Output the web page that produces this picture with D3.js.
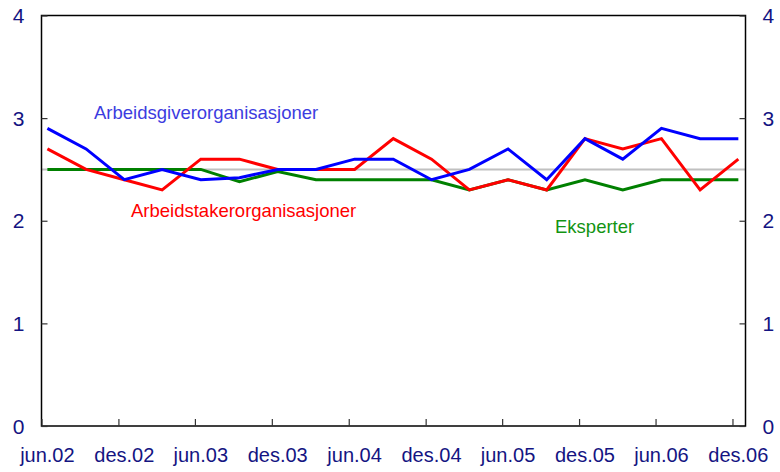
<!DOCTYPE html>
<html>
<head>
<meta charset="utf-8">
<script src="https://cdn.jsdelivr.net/npm/d3@7"></script>
<style>
  body { margin: 0; background: #fff; }
  text { font-family: "Liberation Sans", Arial, sans-serif; }
</style>
</head>
<body>
<svg id="chart" width="780" height="472"></svg>
<script>
// quarterly observations, jun.02 - des.06
const quarters = ["2002-06","2002-09","2002-12","2003-03","2003-06","2003-09","2003-12",
  "2004-03","2004-06","2004-09","2004-12","2005-03","2005-06","2005-09","2005-12",
  "2006-03","2006-06","2006-09","2006-12"];

const arbeidsgiver = [2.9, 2.7, 2.4, 2.5, 2.4, 2.42, 2.5, 2.5, 2.6, 2.6, 2.4, 2.5, 2.7, 2.4, 2.8, 2.6, 2.9, 2.8, 2.8];
const arbeidstaker = [2.7, 2.5, 2.4, 2.3, 2.6, 2.6, 2.5, 2.5, 2.5, 2.8, 2.6, 2.3, 2.4, 2.3, 2.8, 2.7, 2.8, 2.3, 2.6];
const eksperter   = [2.5, 2.5, 2.5, 2.5, 2.5, 2.38, 2.48, 2.4, 2.4, 2.4, 2.4, 2.3, 2.4, 2.3, 2.4, 2.3, 2.4, 2.4, 2.4];

const xTickMonths = ["2002-06","2002-12","2003-06","2003-12","2004-06","2004-12","2005-06","2005-12","2006-06","2006-12"];
const xTickLabels = ["jun.02","des.02","jun.03","des.03","jun.04","des.04","jun.05","des.05","jun.06","des.06"];
const yTicks = [0, 1, 2, 3, 4];
const target = 2.5;

const parseMonth = d3.timeParse("%Y-%m");
const mid = s => d3.timeDay.offset(parseMonth(s), 14);

const svg = d3.select("#chart");
const x0 = 41.5, x1 = 745.5, y0 = 15.5, y1 = 426;

const x = d3.scaleTime()
  .domain([parseMonth("2002-06"), parseMonth("2007-01")])
  .range([x0, x1]);
const y = d3.scaleLinear().domain([0, 4]).range([y1, y0]);

const navy = "#141482";

// target line
svg.append("line")
  .attr("x1", x0).attr("x2", x1)
  .attr("y1", y(target)).attr("y2", y(target))
  .attr("stroke", "#c0c0c0").attr("stroke-width", 2);

// series
const line = d3.line()
  .x((d, i) => x(mid(quarters[i])))
  .y(d => y(d));

const series = [
  {values: eksperter, color: "#008000"},
  {values: arbeidstaker, color: "#ff0000"},
  {values: arbeidsgiver, color: "#0000ff"}
];
series.forEach(s => {
  svg.append("path")
    .attr("d", line(s.values))
    .attr("fill", "none")
    .attr("stroke", s.color)
    .attr("stroke-width", 3)
    .attr("stroke-linejoin", "miter");
});

// frame
svg.append("rect")
  .attr("x", x0).attr("y", y0)
  .attr("width", x1 - x0).attr("height", y1 - y0)
  .attr("fill", "none").attr("stroke", "#000").attr("stroke-width", 1.5);

// y axes (ticks inward)
const yLeft = svg.append("g").attr("transform", `translate(${x0},0)`)
  .call(d3.axisRight(y).tickValues(yTicks).tickSize(6).tickFormat(""));
const yRight = svg.append("g").attr("transform", `translate(${x1},0)`)
  .call(d3.axisLeft(y).tickValues(yTicks).tickSize(6).tickFormat(""));
[yLeft, yRight].forEach(g => {
  g.select(".domain").remove();
  g.selectAll("line").attr("stroke", "#333").attr("stroke-width", 1.2);
});

svg.selectAll("text.yl").data(yTicks).join("text")
  .attr("class", "yl")
  .attr("x", x0 - 17).attr("y", d => y(d)).attr("dy", "0.36em")
  .attr("text-anchor", "end")
  .attr("font-size", 21).attr("fill", navy)
  .text(d => d);
svg.selectAll("text.yr").data(yTicks).join("text")
  .attr("class", "yr")
  .attr("x", x1 + 17).attr("y", d => y(d)).attr("dy", "0.36em")
  .attr("text-anchor", "start")
  .attr("font-size", 21).attr("fill", navy)
  .text(d => d);

// x axis ticks (inward) and labels
const xAxis = svg.append("g").attr("transform", `translate(0,${y1})`)
  .call(d3.axisTop(x).tickValues(xTickMonths.map(parseMonth)).tickSize(7).tickFormat(""));
xAxis.select(".domain").remove();
xAxis.selectAll("line").attr("stroke", "#333").attr("stroke-width", 1.2);

svg.selectAll("text.xl").data(xTickMonths).join("text")
  .attr("class", "xl")
  .attr("x", d => x(mid(d))).attr("y", 462)
  .attr("text-anchor", "middle")
  .attr("font-size", 20).attr("fill", navy)
  .text((d, i) => xTickLabels[i]);

// series labels
const labels = [
  {text: "Arbeidsgiverorganisasjoner", x: 94, y: 119, color: "#3c3ce0"},
  {text: "Arbeidstakerorganisasjoner", x: 131, y: 217, color: "#ff0000"},
  {text: "Eksperter", x: 555, y: 233, color: "#129412"}
];
svg.selectAll("text.sl").data(labels).join("text")
  .attr("class", "sl")
  .attr("x", d => d.x).attr("y", d => d.y)
  .attr("font-size", 18.5).attr("fill", d => d.color)
  .text(d => d.text);
</script>
</body>
</html>
